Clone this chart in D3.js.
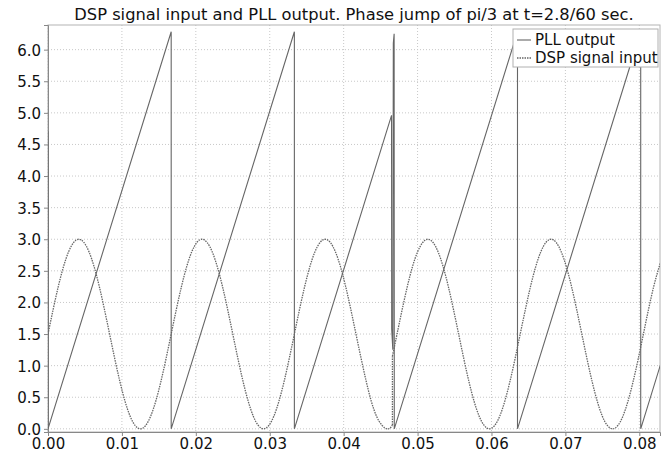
<!DOCTYPE html>
<html>
<head>
<meta charset="utf-8">
<script src="https://cdn.jsdelivr.net/npm/d3@7"></script>
<style>
  body { margin: 0; background: #fff; }
  text { font-family: "DejaVu Sans", sans-serif; }
</style>
</head>
<body>
<div id="chart"></div>
<script>
const title = 'DSP signal input and PLL output. Phase jump of pi/3 at t=2.8/60 sec.';
const xTicks = [0, 0.01, 0.02, 0.03, 0.04, 0.05, 0.06, 0.07, 0.08];
const yTicks = [0, 0.5, 1, 1.5, 2, 2.5, 3, 3.5, 4, 4.5, 5, 5.5, 6];
const seriesNames = ['PLL output', 'DSP signal input'];

// PLL output: sawtooth breakpoints (time, phase)
const pllT = [0, 0, 0.016667, 0.016667, 0.033333, 0.033333, 0.04648, 0.04650, 0.04665, 0.04672, 0.04683, 0.04685, 0.06352, 0.06352, 0.08019, 0.08019, 0.0833];
const pllV = [4.71, 0, 6.283, 0, 6.283, 0, 4.96, 1.58, 1.25, 6.1, 6.25, 0, 6.283, 0, 6.283, 0, 1.18];

// DSP signal input, sampled every 1/720 s
const dspStep = 1 / 720;
const jumpT = 0.0466;
const dspBefore = [1.5, 2.25, 2.8, 3.0, 2.8, 2.25, 1.5, 0.75, 0.2, 0, 0.2, 0.75,
                   1.5, 2.25, 2.8, 3.0, 2.8, 2.25, 1.5, 0.75, 0.2, 0, 0.2, 0.75,
                   1.5, 2.25, 2.8, 3.0, 2.8, 2.25, 1.5, 0.75, 0.2, 0];
const dspAtJump = [0.06, 1.15];
const dspAfterStart = 34; // sample index of first point after the jump
const dspAfter = [1.5, 2.25, 2.8, 3.0, 2.8, 2.25, 1.5, 0.75, 0.2, 0, 0.2, 0.75,
                  1.5, 2.25, 2.8, 3.0, 2.8, 2.25, 1.5, 0.75, 0.2, 0, 0.2, 0.75,
                  1.5, 2.25, 2.8];

const width = 669, height = 458;
const margin = { top: 25, right: 9, bottom: 26, left: 48 };

const x = d3.scaleLinear()
    .domain([0, 0.0828])
    .range([margin.left, width - margin.right]);

const y = d3.scaleLinear()
    .domain([-0.05, 6.39])
    .range([height - margin.bottom, margin.top]);

const svg = d3.select('#chart').append('svg')
    .attr('width', width)
    .attr('height', height);

svg.append('defs').append('clipPath')
    .attr('id', 'plot-clip')
  .append('rect')
    .attr('x', margin.left)
    .attr('y', margin.top)
    .attr('width', width - margin.left - margin.right)
    .attr('height', height - margin.top - margin.bottom);

// grid
svg.append('g')
  .selectAll('line')
  .data(xTicks)
  .join('line')
    .attr('x1', d => x(d)).attr('x2', d => x(d))
    .attr('y1', margin.top).attr('y2', height - margin.bottom)
    .attr('stroke', '#c8c8c8')
    .attr('stroke-dasharray', '1,2');

svg.append('g')
  .selectAll('line')
  .data(yTicks)
  .join('line')
    .attr('x1', margin.left).attr('x2', width - margin.right)
    .attr('y1', d => y(d)).attr('y2', d => y(d))
    .attr('stroke', '#c8c8c8')
    .attr('stroke-dasharray', '1,2');

// frame
svg.append('rect')
    .attr('x', margin.left)
    .attr('y', margin.top)
    .attr('width', width - margin.left - margin.right)
    .attr('height', height - margin.top - margin.bottom)
    .attr('fill', 'none')
    .attr('stroke', '#b4b4b4');

// axes
const xAxis = svg.append('g')
    .attr('transform', `translate(0,${height - margin.bottom})`)
    .call(d3.axisBottom(x).tickValues(xTicks).tickFormat(d3.format('.2f')).tickSize(4).tickPadding(2));

const yAxis = svg.append('g')
    .attr('transform', `translate(${margin.left},0)`)
    .call(d3.axisLeft(y).tickValues(yTicks).tickFormat(d3.format('.1f')).tickSize(4).tickPadding(3));

[xAxis, yAxis].forEach(g => {
  g.select('.domain').attr('stroke', '#888');
  g.selectAll('.tick line').attr('stroke', '#888');
  g.selectAll('.tick text')
      .attr('fill', '#111')
      .attr('font-size', 15);
});
yAxis.selectAll('.tick text').attr('dy', '0.36em');

const plot = svg.append('g').attr('clip-path', 'url(#plot-clip)');

// DSP signal input
const dspLine = d3.line()
    .x(d => x(d[0]))
    .y(d => y(d[1]))
    .curve(d3.curveNatural);

const seg1 = dspBefore.map((v, i) => [i * dspStep, v]);
seg1.push([jumpT, dspAtJump[0]]);
const seg2 = [[jumpT, dspAtJump[1]]].concat(dspAfter.map((v, i) => [(dspAfterStart + i) * dspStep, v]));

plot.selectAll('.dsp')
  .data([seg1, [[jumpT, dspAtJump[0]], [jumpT, dspAtJump[1]]], seg2])
  .join('path')
    .attr('class', 'dsp')
    .attr('d', (d, i) => i === 1 ? d3.line().x(p => x(p[0])).y(p => y(p[1]))(d) : dspLine(d))
    .attr('fill', 'none')
    .attr('stroke', '#666')
    .attr('stroke-width', 1.3)
    .attr('stroke-dasharray', '1.5,1');

// PLL output
plot.append('path')
    .datum(pllT.map((t, i) => [t, pllV[i]]))
    .attr('d', d3.line().x(d => x(d[0])).y(d => y(d[1])))
    .attr('fill', 'none')
    .attr('stroke', '#666')
    .attr('stroke-width', 1.1);

// title
svg.append('text')
    .attr('x', 354)
    .attr('y', 20)
    .attr('text-anchor', 'middle')
    .attr('font-size', 16.3)
    .attr('fill', '#111')
    .text(title);

// legend
const legend = svg.append('g');
legend.append('rect')
    .attr('x', 513).attr('y', 29)
    .attr('width', 145).attr('height', 38)
    .attr('fill', '#fff')
    .attr('stroke', '#b0b0b0');

const entry = legend.selectAll('.entry')
  .data(seriesNames)
  .join('g')
    .attr('class', 'entry')
    .attr('transform', (d, i) => `translate(517,${40 + i * 18})`);

entry.append('line')
    .attr('x1', 0).attr('x2', 14)
    .attr('stroke', '#666')
    .attr('stroke-width', (d, i) => i === 0 ? 1.1 : 1.3)
    .attr('stroke-dasharray', (d, i) => i === 0 ? null : '1.5,1');

entry.append('text')
    .attr('x', 18)
    .attr('y', 5)
    .attr('font-size', 15)
    .attr('fill', '#111')
    .text(d => d);
</script>
</body>
</html>
